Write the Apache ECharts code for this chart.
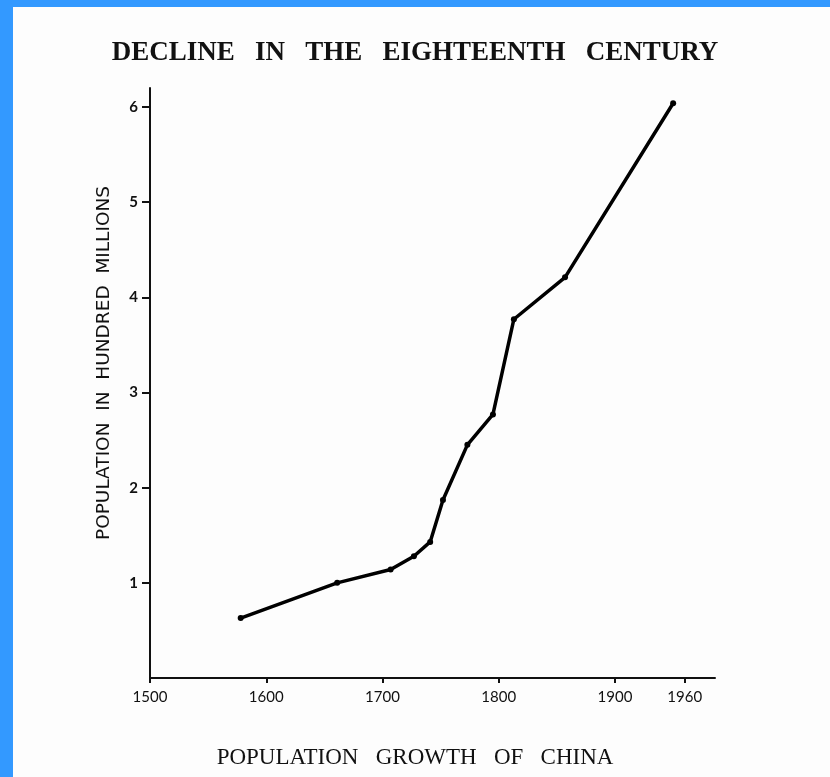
<!DOCTYPE html>
<html>
<head>
<meta charset="utf-8">
<script src="https://cdn.jsdelivr.net/npm/echarts@6/dist/echarts.min.js"></script>
<style>
html,body{margin:0;padding:0;background:#fdfdfd;}
#chart{width:830px;height:777px;}
</style>
</head>
<body>
<div id="chart"></div>
<script>
var years = [1578, 1661, 1707, 1727, 1741, 1752, 1773, 1795, 1813, 1857, 1950];
var population = [0.63, 1.00, 1.14, 1.28, 1.43, 1.87, 2.45, 2.77, 3.77, 4.21, 6.04];
var xTicks = [1500, 1600, 1700, 1800, 1900, 1960];
var yTicks = [1, 2, 3, 4, 5, 6];
var titleText = 'DECLINE   IN   THE   EIGHTEENTH   CENTURY';
var captionText = 'POPULATION   GROWTH   OF   CHINA';
var yName = 'POPULATION  IN  HUNDRED  MILLIONS';

var chart = echarts.init(document.getElementById('chart'), null, {renderer:'canvas'});
var seriesData = years.map(function(y,i){return [y, population[i]];});
chart.setOption({
  backgroundColor:'#fdfdfd',
  animation:false,
  title:[
    {text:titleText,left:'center',top:35,
     textStyle:{fontFamily:'Liberation Serif',fontSize:27,fontWeight:'bold',color:'#111'}},
    {text:captionText,left:'center',top:741,
     textStyle:{fontFamily:'Liberation Serif',fontSize:23,fontWeight:'normal',color:'#111'}}
  ],
  graphic:[
    {type:'rect',left:0,top:0,shape:{width:830,height:7},style:{fill:'#3399ff'}},
    {type:'rect',left:0,top:0,shape:{width:13,height:777},style:{fill:'#3399ff'}}
  ],
  grid:{left:150,right:115,top:88,bottom:99,containLabel:false},
  xAxis:{
    type:'value',min:1500,max:1986,
    axisLine:{show:true,lineStyle:{color:'#111',width:2}},
    axisTick:{show:true,customValues:xTicks,length:5,lineStyle:{color:'#111',width:2}},
    axisLabel:{customValues:xTicks,formatter:function(v){return String(v);},color:'#111',fontFamily:'Lato',fontSize:15,margin:12},
    splitLine:{show:false}
  },
  yAxis:{
    type:'value',min:0,max:6.2,
    name:yName,nameLocation:'middle',nameRotate:90,nameGap:36,
    nameTextStyle:{fontFamily:'DejaVu Sans',fontSize:18.5,color:'#111',padding:[0,0,0,40]},
    axisLine:{show:true,lineStyle:{color:'#111',width:2}},
    axisTick:{show:true,customValues:yTicks,length:8,lineStyle:{color:'#111',width:2}},
    axisLabel:{customValues:yTicks,color:'#111',fontFamily:'Lato',fontWeight:'bold',fontSize:15,margin:12},
    splitLine:{show:false}
  },
  series:[{
    type:'line',data:seriesData,
    lineStyle:{color:'#000',width:3.5},
    itemStyle:{color:'#000'},
    symbol:'circle',symbolSize:6,
    showSymbol:true
  }]
});
</script>
</body>
</html>
